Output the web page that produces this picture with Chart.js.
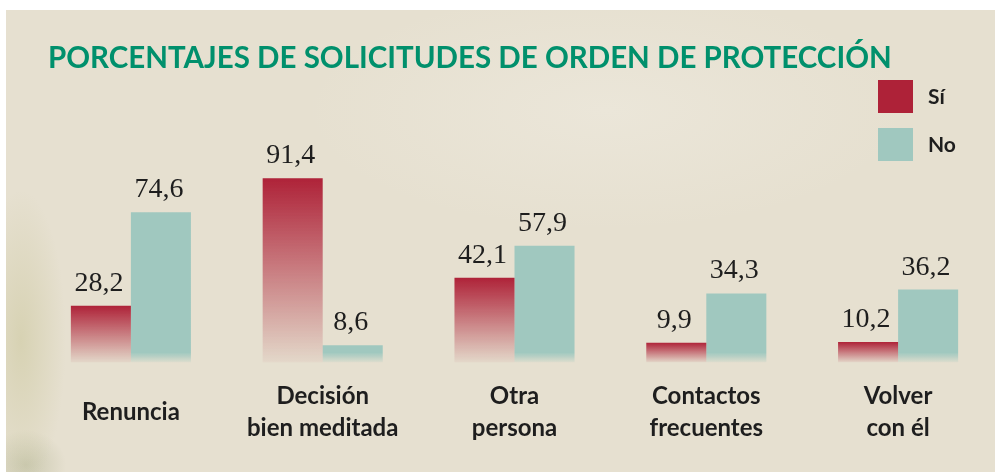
<!DOCTYPE html>
<html>
<head>
<meta charset="utf-8">
<script src="https://cdn.jsdelivr.net/npm/chart.js@4.4.1/dist/chart.umd.min.js"></script>
<style>
  html, body { margin: 0; padding: 0; background: #ffffff; }
  #wrap {
    position: absolute; left: 6px; top: 10px; width: 989px; height: 462px;
    background:
      radial-gradient(ellipse 45px 150px at 15px 330px, rgba(200,196,150,0.5), rgba(200,196,150,0) 100%),
      radial-gradient(ellipse 40px 35px at 20px 455px, rgba(160,165,125,0.4), rgba(160,165,125,0) 100%),
      radial-gradient(ellipse 300px 120px at 600px 100px, rgba(240,236,226,0.5), rgba(240,236,226,0) 100%),
      #e6e0d0;
  }
  #c { position: absolute; left: 0; top: 0; }
</style>
</head>
<body>
<div id="wrap"></div>
<canvas id="c" width="995" height="472"></canvas>
<script>
const titleText = 'PORCENTAJES DE SOLICITUDES DE ORDEN DE PROTECCIÓN';
const categories = [
  ['Renuncia'],
  ['Decisión', 'bien meditada'],
  ['Otra', 'persona'],
  ['Contactos', 'frecuentes'],
  ['Volver', 'con él']
];
const seriesNames = ['Sí', 'No'];
const siValues = [28.2, 91.4, 42.1, 9.9, 10.2];
const noValues = [74.6, 8.6, 57.9, 34.3, 36.2];

const RED = [174, 34, 56];
const TEAL = [160, 200, 191];

function rgba(c, a) { return 'rgba(' + c[0] + ',' + c[1] + ',' + c[2] + ',' + a + ')'; }

function redFill(ctx) {
  const chart = ctx.chart;
  if (!chart.chartArea || ctx.type !== 'data') return rgba(RED, 1);
  const y = chart.scales.y;
  const top = y.getPixelForValue(ctx.raw);
  const bot = y.getPixelForValue(0);
  if (bot - top < 1) return rgba(RED, 1);
  const g = chart.ctx.createLinearGradient(0, top, 0, bot);
  g.addColorStop(0, rgba(RED, 1));
  g.addColorStop(1, rgba(RED, 0.04));
  return g;
}
function tealFill(ctx) {
  const chart = ctx.chart;
  if (!chart.chartArea || ctx.type !== 'data') return rgba(TEAL, 1);
  const y = chart.scales.y;
  const top = y.getPixelForValue(ctx.raw);
  const bot = y.getPixelForValue(0);
  const h = bot - top;
  if (h < 1) return rgba(TEAL, 1);
  const g = chart.ctx.createLinearGradient(0, top, 0, bot);
  const s = Math.max(0, 1 - 10 / h);
  g.addColorStop(0, rgba(TEAL, 1));
  g.addColorStop(s, rgba(TEAL, 1));
  g.addColorStop(1, rgba(TEAL, 0.1));
  return g;
}

const overlay = {
  id: 'overlay',
  afterDatasetsDraw(chart) {
    const ctx = chart.ctx;
    ctx.save();
    // title
    ctx.fillStyle = '#00906c';
    ctx.font = 'bold 29.5px Lato';
    ctx.textBaseline = 'alphabetic';
    ctx.textAlign = 'left';
    ctx.fillText(titleText, 48, 68);
    // value labels
    ctx.fillStyle = '#1e1e1e';
    ctx.font = '28px "Liberation Serif"';
    ctx.textAlign = 'center';
    chart.data.datasets.forEach((ds, di) => {
      const meta = chart.getDatasetMeta(di);
      meta.data.forEach((bar, i) => {
        ctx.fillText(ds.data[i].toFixed(1).replace('.', ','), bar.x - 2, bar.y - 15);
      });
    });
    // legend
    const colors = [rgba(RED, 1), rgba(TEAL, 1)];
    ctx.font = 'bold 21px Lato';
    ctx.textAlign = 'left';
    ctx.textBaseline = 'middle';
    chart.data.datasets.forEach((ds, di) => {
      const y0 = 80 + di * 48;
      ctx.fillStyle = colors[di];
      ctx.fillRect(878, y0, 35, 33);
      ctx.fillStyle = '#1e1e1e';
      ctx.fillText(ds.label, 928, y0 + 17);
    });
    ctx.restore();
  }
};

new Chart(document.getElementById('c'), {
  type: 'bar',
  data: {
    labels: categories,
    datasets: [
      { label: seriesNames[0], data: siValues, backgroundColor: redFill, borderWidth: 0 },
      { label: seriesNames[1], data: noValues, backgroundColor: tealFill, borderWidth: 0 }
    ]
  },
  options: {
    responsive: false,
    animation: false,
    devicePixelRatio: 1,
    layout: { padding: { left: 35, right: 1, top: 161, bottom: -13 } },
    plugins: { legend: { display: false }, tooltip: { enabled: false }, title: { display: false } },
    datasets: { bar: { barPercentage: 1, categoryPercentage: 0.626 } },
    scales: {
      x: {
        grid: { display: false },
        border: { display: false },
        ticks: {
          color: '#1e1e1e',
          font: { family: 'Lato', weight: 'bold', size: 24, lineHeight: 1.3 },
          padding: 26,
          crossAlign: 'center',
          maxRotation: 0,
          autoSkip: false
        }
      },
      y: { display: false, min: 0, max: 100 }
    }
  },
  plugins: [overlay]
});
</script>
</body>
</html>
